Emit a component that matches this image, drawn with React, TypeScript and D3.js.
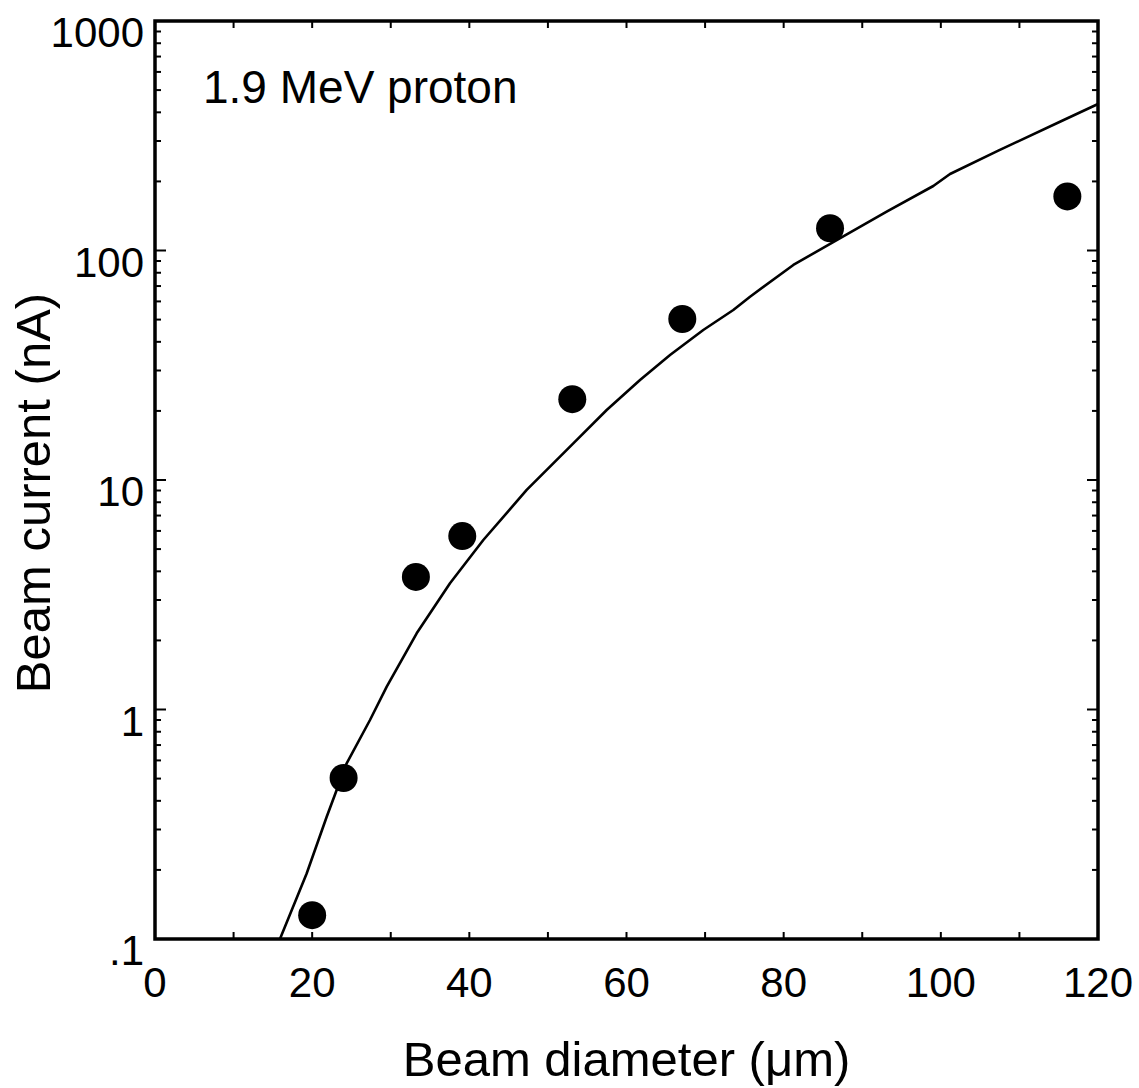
import React from "react";
import * as d3 from "d3";

const W = 1139;
const H = 1088;

// Measured data points (beam diameter µm, beam current nA)
const pointDiameter = [20, 24, 33.2, 39.1, 53.1, 67.1, 85.9, 116.1];
const pointCurrent = [0.127, 0.503, 3.78, 5.7, 22.5, 50.3, 125, 172];

const curveDiameter = [15.9, 19.3, 21.85, 24.39, 27.36, 29.49, 33.3, 37.54, 41.78, 47.3, 53.23, 57.48, 61.72, 65.54, 69.77, 73.59, 75.72, 81.23, 86.75, 93.11, 99.04, 101.17, 107.31, 115.16, 120];
const curveCurrent = [0.1, 0.193, 0.341, 0.583, 0.9, 1.257, 2.148, 3.547, 5.476, 9.05, 14.45, 20.18, 27.28, 35.05, 45.04, 55.05, 62.9, 86.5, 111.1, 147.6, 191.0, 215.4, 272.2, 364, 435];

const xTickValues = [0, 20, 40, 60, 80, 100, 120];
const xMinorValues = [10, 30, 50, 70, 90, 110];
const yTickValues = [0.1, 1, 10, 100, 1000];
const yTickLabels = [".1", "1", "10", "100", "1000"];

const xTitle = "Beam diameter (\u03bcm)";
const yTitle = "Beam current (nA)";
const annotation = "1.9 MeV proton";

const FONT = "'Liberation Sans', Arial, Helvetica, sans-serif";

export default function App() {
  const left = 155, right = 1098, top = 21, bottom = 939;
  const x = d3.scaleLinear().domain([0, 120]).range([left, right]);
  const y = d3.scaleLog().domain([0.1, 1000]).range([bottom, top]);

  const yMinor: number[] = [];
  for (let e = -1; e < 3; e++) {
    for (let m = 2; m <= 9; m++) yMinor.push(m * Math.pow(10, e));
  }

  const line = d3
    .line<number>()
    .x((_, i) => x(curveDiameter[i]))
    .y((_, i) => y(curveCurrent[i]));

  const majorLen = 11;
  const minorLen = 6;
  const xLen = 7;

  return (
    <svg
      width={W}
      height={H}
      style={{ position: "absolute", left: 0, top: 0, background: "#fff" }}
      fontFamily={FONT}
    >
      <defs>
        <clipPath id="plotClip">
          <rect x={left} y={top} width={right - left} height={bottom - top} />
        </clipPath>
      </defs>
      <rect x={0} y={0} width={W} height={H} fill="#fff" />

      {/* ticks */}
      <g stroke="#000" strokeWidth={2}>
        {[...xTickValues, ...xMinorValues].map((v) => (
          <g key={"xt" + v}>
            <line x1={x(v)} x2={x(v)} y1={bottom} y2={bottom - xLen} />
            <line x1={x(v)} x2={x(v)} y1={top} y2={top + xLen} />
          </g>
        ))}
        {yTickValues.map((v) => (
          <g key={"yt" + v}>
            <line x1={left} x2={left + majorLen} y1={y(v)} y2={y(v)} />
            <line x1={right} x2={right - majorLen} y1={y(v)} y2={y(v)} />
          </g>
        ))}
        {yMinor.map((v) => (
          <g key={"ym" + v}>
            <line x1={left} x2={left + minorLen} y1={y(v)} y2={y(v)} />
            <line x1={right} x2={right - minorLen} y1={y(v)} y2={y(v)} />
          </g>
        ))}
      </g>

      {/* curve */}
      <path
        d={line(curveDiameter) || ""}
        fill="none"
        stroke="#000"
        strokeWidth={2.6}
        strokeLinejoin="round"
        clipPath="url(#plotClip)"
      />

      {/* points */}
      {pointDiameter.map((d, i) => (
        <circle key={"p" + i} cx={x(d)} cy={y(pointCurrent[i])} r={14} fill="#000" />
      ))}

      {/* frame */}
      <rect
        x={left}
        y={top}
        width={right - left}
        height={bottom - top}
        fill="none"
        stroke="#000"
        strokeWidth={3.5}
      />

      {/* tick labels */}
      <g fontSize={42} fill="#000">
        {xTickValues.map((v) => (
          <text key={"xl" + v} x={x(v)} y={bottom + 58} textAnchor="middle">
            {String(v)}
          </text>
        ))}
        {yTickValues.map((v, i) => (
          <text key={"yl" + v} x={left - 11} y={y(v) + 26} textAnchor="end">
            {yTickLabels[i]}
          </text>
        ))}
      </g>

      {/* titles */}
      <text x={(left + right) / 2} y={1076} textAnchor="middle" fontSize={49} fill="#000">
        {xTitle}
      </text>
      <text
        transform={`translate(50, ${(top + bottom) / 2 + 13}) rotate(-90)`}
        textAnchor="middle"
        fontSize={49}
        fill="#000"
      >
        {yTitle}
      </text>
      <text x={203} y={103} fontSize={46} fill="#000">
        {annotation}
      </text>
    </svg>
  );
}
